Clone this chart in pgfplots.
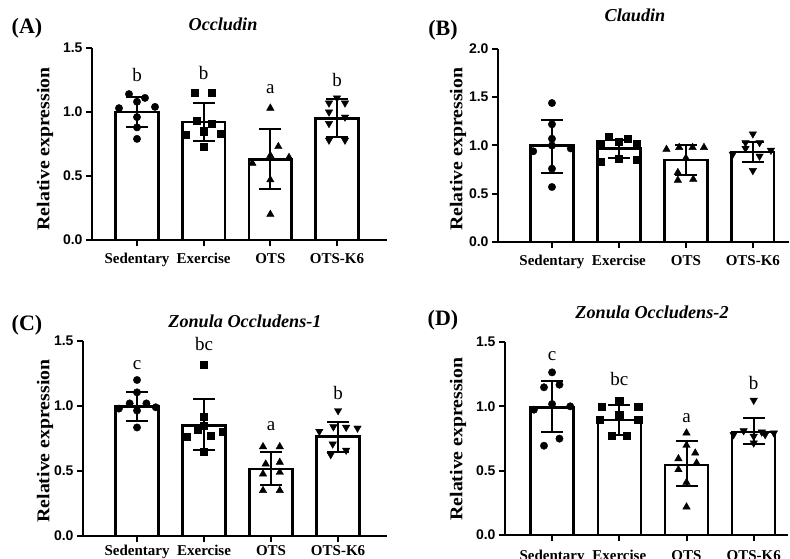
\documentclass[border=0pt]{standalone}
\usepackage{pgfplots}
\pgfplotsset{compat=1.18}
\usepackage{fontspec}
\setmainfont{Liberation Serif}
\newfontfamily\sansf{Liberation Sans}
\tikzset{sig/.style={font=\fontsize{19}{19}\selectfont, anchor=base},
  ttl/.style={font=\bfseries\itshape\fontsize{18.2}{18.2}\selectfont},
  plet/.style={font=\bfseries\fontsize{22}{22}\selectfont}}
\pgfplotsset{
  panel/.style={
    scale only axis, anchor=south west, clip=false,
    axis x line*=bottom, axis y line*=left,
    axis line style={-, line width=2.4pt},
    ymin=0,
    xtick={0,1,2,3}, xticklabels={Sedentary,Exercise,OTS,OTS-K6},
    x tick label style={font=\bfseries\fontsize{15}{15}\selectfont},
    y tick label style={font=\sansf\bfseries\fontsize{14}{14}\selectfont},
    /pgf/number format/.cd, fixed, fixed zerofill, precision=1, assume math mode=true,
    /pgfplots/.cd,
    tick align=outside, major tick length=6pt,
    tick style={line width=2pt, black},
    ylabel={Relative expression},
    ylabel style={font=\bfseries\fontsize{18}{18}\selectfont, anchor=center, xscale=1.1},
  },
  barsty/.style={ybar, bar width=0.64, fill=white, draw=black, line width=2.4pt},
  errsty/.style={draw=none, mark=none, forget plot,
    error bars/.cd, y dir=both, y explicit,
    error bar style={draw=black, solid, line width=2pt},
    error mark=-, error mark options={draw=black, rotate=90, mark size=11pt, line width=2pt}},
  circ/.style={only marks, mark=*, mark size=3.7pt, black},
  sq/.style={only marks, mark=square*, mark size=3.6pt, black},
  tri/.style={only marks, mark=triangle*, mark size=4.3pt, black},
  itri/.style={only marks, mark=triangle*, mark size=4.3pt, black, mark options={rotate=180}},
}
\begin{document}
\begin{tikzpicture}
\path[use as bounding box] (0,0) rectangle (790pt,558pt);
% ---------------- (A) Occludin
\begin{axis}[panel, at={(92pt,318pt)}, width=295pt, height=192pt,
  xmin=-0.675, xmax=3.75, ymax=1.5, ytick={0,0.5,1,1.5},
  x tick label style={yshift=-4pt},
  ylabel style={at={(axis description cs:-0.159,0.474)}}]
\addplot[barsty] coordinates {(0,1.0) (1,0.92) (2,0.63) (3,0.95)};
\addplot[circ] coordinates {(-0.12,1.14) (0.12,1.11) (0,1.08) (-0.27,1.03) (0.27,1.04) (0,0.96) (0,0.88) (0,0.79)};
\addplot[sq] coordinates {(0.87,1.15) (1.12,1.15) (0.89,0.93) (1.12,0.91) (1,0.85) (0.73,0.82) (1.26,0.83) (1,0.73)};
\addplot[tri] coordinates {(2,1.03) (2.12,0.73) (2,0.66) (2.28,0.645) (1.73,0.60) (2,0.47) (2,0.20)};
\addplot[itri] coordinates {(3,1.11) (2.88,1.07) (3.12,1.07) (2.88,1.0) (3.12,0.96) (2.88,0.91) (2.88,0.78) (3.12,0.78)};
\addplot[errsty] coordinates {(0,1.0) +- (0,0.115) (1,0.92) +- (0,0.15) (2,0.63) +- (0,0.235) (3,0.955) +- (0,0.15)};
\node[sig] at (axis cs:0,1.237) {b};
\node[sig] at (axis cs:1,1.25) {b};
\node[sig] at (axis cs:2,1.146) {a};
\node[sig] at (axis cs:3,1.198) {b};
\end{axis}
% ---------------- (B) Claudin
\begin{axis}[panel, at={(498pt,316pt)}, width=291pt, height=193pt,
  xmin=-0.806, xmax=3.54, ymax=2.0, ytick={0,0.5,1,1.5,2},
  x tick label style={yshift=-4pt},
  ylabel style={at={(axis description cs:-0.137,0.48)}}]
\addplot[barsty] coordinates {(0,1.0) (1,0.97) (2,0.85) (3,0.935)};
\addplot[circ] coordinates {(0,1.44) (0,1.22) (0,1.07) (0,1.0) (-0.28,0.94) (0.28,0.97) (0,0.76) (0,0.57)};
\addplot[sq] coordinates {(0.85,1.09) (1.13,1.07) (1,1.04) (0.72,1.02) (1.27,1.02) (0.72,0.83) (1.27,0.85) (1,0.86)};
\addplot[tri] coordinates {(1.71,0.96) (1.9,0.98) (2.1,0.98) (2.27,0.98) (2,0.87) (1.88,0.72) (1.88,0.64) (2.11,0.65)};
\addplot[itri] coordinates {(3,1.12) (2.89,1.03) (3.1,1.03) (2.89,0.97) (3.27,0.95) (2.7,0.91) (3.1,0.89) (3,0.74)};
\addplot[errsty] coordinates {(0,0.99) +- (0,0.27) (1,0.965) +- (0,0.095) (2,0.85) +- (0,0.155) (3,0.935) +- (0,0.105)};
\end{axis}
% ---------------- (C) ZO-1
\begin{axis}[panel, at={(83pt,22pt)}, width=304pt, height=195pt,
  xmin=-0.806, xmax=3.73, ymax=1.5, ytick={0,0.5,1,1.5},
  ylabel style={at={(axis description cs:-0.125,0.487)}}]
\addplot[barsty] coordinates {(0,0.995) (1,0.85) (2,0.515) (3,0.765)};
\addplot[circ] coordinates {(0,1.20) (0,1.105) (-0.11,1.02) (0.14,1.02) (-0.27,0.98) (0.28,0.99) (0,0.965) (0,0.835)};
\addplot[sq] coordinates {(1,1.315) (1,0.92) (0.9,0.815) (0.74,0.765) (1.1,0.77) (1.28,0.805) (1,0.65) (1,0.85)};
\addplot[tri] coordinates {(1.88,0.687) (2.13,0.687) (1.92,0.554) (2.13,0.567) (1.88,0.477) (2.13,0.49) (1.88,0.35) (2.13,0.35)};
\addplot[itri] coordinates {(3,0.964) (2.72,0.805) (2.93,0.84) (3.12,0.836) (3.29,0.83) (2.92,0.708) (2.89,0.626) (3.12,0.66)};
\addplot[errsty] coordinates {(0,0.998) +- (0,0.112) (1,0.857) +- (0,0.197) (2,0.52) +- (0,0.125) (3,0.762) +- (0,0.112)};
\node[sig] at (axis cs:0,1.277) {c};
\node[sig] at (axis cs:1,1.425) {bc};
\node[sig] at (axis cs:2,0.81) {a};
\node[sig] at (axis cs:3,1.05) {b};
\end{axis}
% ---------------- (D) ZO-2
\begin{axis}[panel, at={(505pt,23pt)}, width=283pt, height=193pt,
  xmin=-0.70, xmax=3.51, ymax=1.5, ytick={0,0.5,1,1.5},
  x tick label style={yshift=-6pt},
  ylabel style={at={(axis description cs:-0.166,0.497)}}]
\addplot[barsty] coordinates {(0,0.99) (1,0.895) (2,0.545) (3,0.80)};
\addplot[circ] coordinates {(0,1.264) (-0.12,1.148) (0.11,1.168) (0,1.018) (-0.27,0.974) (0.27,1.0) (0.11,0.749) (-0.12,0.694)};
\addplot[sq] coordinates {(1,1.044) (0.74,1.0) (1.28,1.0) (1,0.935) (0.71,0.896) (1.28,0.896) (0.89,0.772) (1.11,0.772)};
\addplot[tri] coordinates {(2,0.793) (2,0.697) (1.88,0.593) (2.13,0.637) (2.15,0.56) (1.88,0.508) (2,0.409) (2,0.218)};
\addplot[itri] coordinates {(3,1.047) (2.85,0.81) (2.7,0.78) (3.12,0.80) (3.3,0.793) (3,0.767) (3,0.715) (3.17,0.78)};
\addplot[errsty] coordinates {(0,0.997) +- (0,0.197) (1,0.895) +- (0,0.117) (2,0.555) +- (0,0.178) (3,0.808) +- (0,0.101)};
\node[sig] at (axis cs:0,1.36) {c};
\node[sig] at (axis cs:1,1.165) {bc};
\node[sig] at (axis cs:2,0.876) {a};
\node[sig] at (axis cs:3,1.134) {b};
\end{axis}
% titles and panel letters
\node[ttl] at (223pt,534pt) {Occludin};
\node[ttl] at (635pt,543pt) {Claudin};
\node[ttl] at (245pt,237pt) {Zonula Occludens-1};
\node[ttl] at (652pt,246pt) {Zonula Occludens-2};
\node[plet] at (27pt,530pt) {(A)};
\node[plet] at (443pt,528pt) {(B)};
\node[plet] at (27pt,233pt) {(C)};
\node[plet] at (443pt,238pt) {(D)};
\end{tikzpicture}
\end{document}
